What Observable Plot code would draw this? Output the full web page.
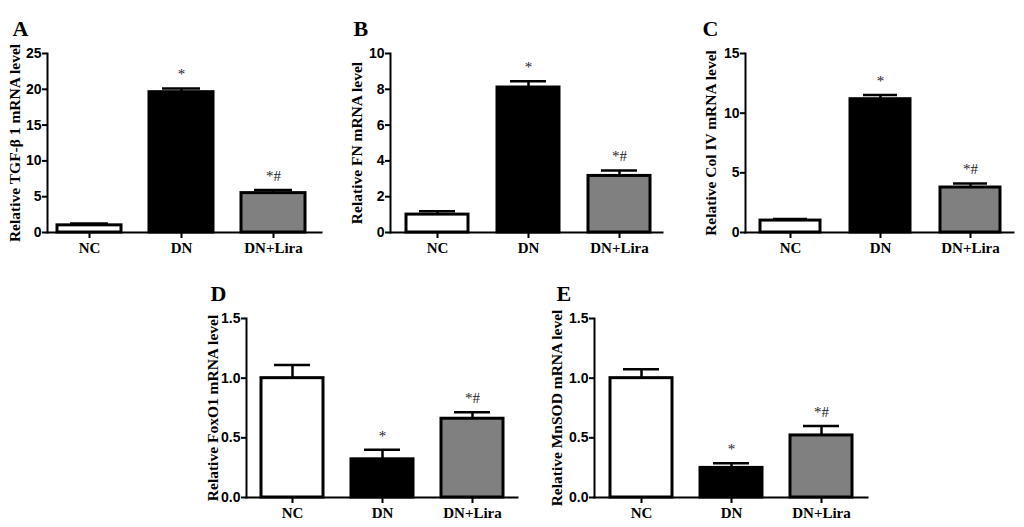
<!DOCTYPE html>
<html>
<head>
<meta charset="utf-8">
<script src="https://cdn.jsdelivr.net/npm/d3@7"></script>
<script src="https://cdn.jsdelivr.net/npm/@observablehq/plot@0.6"></script>
<style>
  body { margin: 0; background: white; }
  #root { position: relative; width: 1024px; height: 527px; background: white; overflow: hidden; }
  .panel { position: absolute; }
</style>
</head>
<body>
<div id="root"></div>
<script>
const groups = ["NC", "DN", "DN+Lira"];
const fills = ["white", "black", "#808080"];
const sig = ["", "*", "*#"];

const tgfMean = [1.0, 19.6, 5.5];
const tgfErr = [0.25, 0.5, 0.45];
const fnMean = [1.0, 8.1, 3.16];
const fnErr = [0.19, 0.35, 0.3];
const colMean = [1.0, 11.17, 3.77];
const colErr = [0.14, 0.36, 0.33];
const foxMean = [1.0, 0.32, 0.66];
const foxErr = [0.11, 0.08, 0.055];
const sodMean = [1.0, 0.248, 0.52];
const sodErr = [0.075, 0.04, 0.08];

const tgfTicks = [0, 5, 10, 15, 20, 25];
const fnTicks = [0, 2, 4, 6, 8, 10];
const colTicks = [0, 5, 10, 15];
const foxTicks = [0, 0.5, 1.0, 1.5];
const sodTicks = [0, 0.5, 1.0, 1.5];

const SANS = "'Liberation Sans', Arial, sans-serif";
const SERIF = "'Liberation Serif', 'Times New Roman', serif";

function panel(o) {
  const data = groups.map((g, i) => ({group: g, value: o.means[i], err: o.errs[i], top: o.means[i] + o.errs[i], sig: sig[i]}));
  return Plot.plot({
    width: o.width, height: o.height,
    marginLeft: o.ml, marginRight: o.mr, marginTop: o.mt, marginBottom: o.mb,
    x: {domain: groups, range: o.xRange, paddingInner: o.pad, paddingOuter: o.pad / 2, label: null},
    y: {domain: o.yDomain, label: null},
    color: {domain: groups, range: fills},
    style: {background: "white", overflow: "visible", color: "black"},
    marks: [
      Plot.ruleX(data, {x: "group", y1: "value", y2: "top", strokeWidth: 2.5, stroke: "black"}),
      Plot.tickY(data, {x: "group", y: "top", strokeWidth: 2.5, stroke: "black", insetLeft: 13, insetRight: 13}),
      Plot.barY(data, {x: "group", y: "value", fill: "group", stroke: "black", strokeWidth: 3}),
      Plot.text(data, {x: "group", y: "top", text: "sig", dy: -14, fontFamily: SERIF, fontSize: 15, fill: "#222"}),
      Plot.frame({anchor: "left", strokeWidth: 2}),
      Plot.frame({anchor: "bottom", strokeWidth: 2}),
      Plot.axisY({ticks: o.yTicks, tickFormat: o.fmt, tickSize: 5, tickPadding: 1, strokeWidth: 2,
        fontFamily: SANS, fontWeight: "bold", fontSize: 14, label: null}),
      Plot.axisX({tickSize: 6, tickPadding: 4, strokeWidth: 2,
        fontFamily: SERIF, fontWeight: "bold", fontSize: 15, label: null}),
      Plot.text([o.title], {frameAnchor: "left", textAnchor: "middle", rotate: -90, dx: o.titleDx,
        fontFamily: SERIF, fontWeight: "bold", fontSize: 15.5}),
      Plot.text([o.letter], {frameAnchor: "top-left", dx: o.letterDx, dy: o.letterDy, textAnchor: "start",
        lineAnchor: "bottom", fontFamily: SERIF, fontWeight: "bold", fontSize: 22})
    ]
  });
}

const specs = [
  {left: 0, top: 0, letter: "A", title: "Relative TGF-β 1 mRNA level", means: tgfMean, errs: tgfErr,
   yDomain: [0, 25], yTicks: tgfTicks, fmt: d3.format("d"),
   width: 330, height: 262, ml: 47, mr: 9, mt: 53, mb: 30, xRange: [42.25, 319.75], pad: 0.3,
   titleDx: -32, letterDx: -35, letterDy: -18},
  {left: 340, top: 0, letter: "B", title: "Relative FN mRNA level", means: fnMean, errs: fnErr,
   yDomain: [0, 10], yTicks: fnTicks, fmt: d3.format("d"),
   width: 330, height: 262, ml: 50, mr: 8, mt: 53, mb: 30, xRange: [51.75, 325.05], pad: 0.32,
   titleDx: -33, letterDx: -37, letterDy: -18},
  {left: 680, top: 0, letter: "C", title: "Relative Col IV mRNA level", means: colMean, errs: colErr,
   yDomain: [0, 15], yTicks: colTicks, fmt: d3.format("d"),
   width: 344, height: 262, ml: 65, mr: 11, mt: 53, mb: 30, xRange: [64.75, 336.25], pad: 0.33,
   titleDx: -34, letterDx: -43, letterDy: -18},
  {left: 180, top: 265, letter: "D", title: "Relative FoxO1 mRNA level", means: foxMean, errs: foxErr,
   yDomain: [0, 1.5], yTicks: foxTicks, fmt: d3.format(".1f"),
   width: 340, height: 262, ml: 66, mr: 3, mt: 53, mb: 30, xRange: [66.05, 337.55], pad: 0.31,
   titleDx: -33, letterDx: -36, letterDy: -18},
  {left: 520, top: 265, letter: "E", title: "Relative MnSOD mRNA level", means: sodMean, errs: sodErr,
   yDomain: [0, 1.5], yTicks: sodTicks, fmt: d3.format(".1f"),
   width: 350, height: 262, ml: 74, mr: 3, mt: 53, mb: 30, xRange: [75.3, 346.4], pad: 0.31,
   titleDx: -37, letterDx: -38, letterDy: -18}
];

const root = document.getElementById("root");
for (const s of specs) {
  const div = document.createElement("div");
  div.className = "panel";
  div.style.left = s.left + "px";
  div.style.top = s.top + "px";
  div.appendChild(panel(s));
  root.appendChild(div);
}
</script>
</body>
</html>
